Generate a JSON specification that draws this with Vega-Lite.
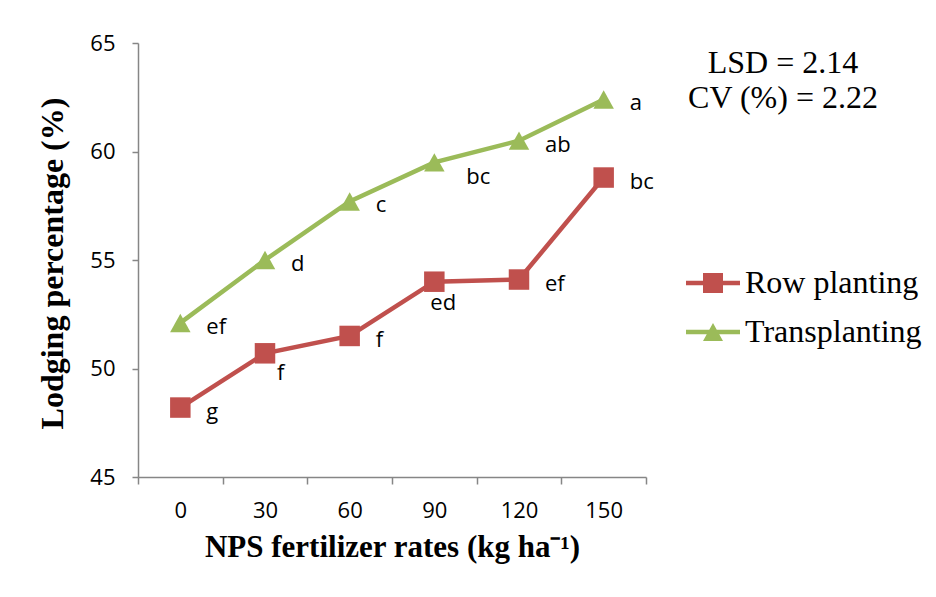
{
  "$schema": "https://vega.github.io/schema/vega-lite/v6.json",
  "width": 508,
  "height": 434,
  "autosize": "none",
  "padding": {"left": 138, "top": 43, "right": 290, "bottom": 120},
  "background": "white",
  "config": {
    "view": {"stroke": null},
    "axis": {
      "domainColor": "#868686", "tickColor": "#868686", "domainWidth": 1.5, "tickWidth": 1.5,
      "grid": false, "labelFont": "Open Sans", "labelFontSize": 22, "labelColor": "black",
      "titleFont": "Liberation Serif", "titleFontSize": 31, "titleFontWeight": "bold", "titleColor": "black"
    },
    "legend": {
      "orient": "none", "legendX": 555, "legendY": 220,
      "symbolSize": 1600, "symbolStrokeWidth": 0, "symbolOpacity": 1,
      "labelFont": "Liberation Serif", "labelFontSize": 32, "labelColor": "black",
      "labelOffset": 12, "rowPadding": 13, "padding": 0, "labelLimit": 400
    }
  },
  "title": {
    "text": ["LSD = 2.14", "CV (%) = 2.22"],
    "anchor": "end", "orient": "top", "frame": "group",
    "font": "Liberation Serif", "fontSize": 32, "fontWeight": "normal", "color": "black",
    "align": "center", "dx": 137, "baseline": "top", "offset": -83, "lineHeight": 35
  },
  "data": {
    "values": [
      {"rate": 0, "series": "Row planting", "value": 48.2, "letter": "g"},
      {"rate": 30, "series": "Row planting", "value": 50.7, "letter": "f"},
      {"rate": 60, "series": "Row planting", "value": 51.5, "letter": "f"},
      {"rate": 90, "series": "Row planting", "value": 54.0, "letter": "ed"},
      {"rate": 120, "series": "Row planting", "value": 54.1, "letter": "ef"},
      {"rate": 150, "series": "Row planting", "value": 58.8, "letter": "bc"},
      {"rate": 0, "series": "Transplanting", "value": 52.1, "letter": "ef"},
      {"rate": 30, "series": "Transplanting", "value": 55.0, "letter": "d"},
      {"rate": 60, "series": "Transplanting", "value": 57.7, "letter": "c"},
      {"rate": 90, "series": "Transplanting", "value": 59.5, "letter": "bc"},
      {"rate": 120, "series": "Transplanting", "value": 60.5, "letter": "ab"},
      {"rate": 150, "series": "Transplanting", "value": 62.4, "letter": "a"}
    ]
  },
  "encoding": {
    "x": {
      "field": "rate", "type": "ordinal",
      "scale": {"type": "band", "paddingInner": 0, "paddingOuter": 0},
      "axis": {
        "title": "NPS fertilizer rates (kg ha⁻¹)", "labelAngle": 0, "tickBand": "extent",
        "tickSize": 7, "labelPadding": 16, "titleY": 79, "titleBaseline": "alphabetic"
      }
    },
    "y": {
      "field": "value", "type": "quantitative",
      "scale": {"domain": [45, 65]},
      "axis": {
        "values": [45, 50, 55, 60, 65], "tickSize": 6, "labelPadding": 17,
        "title": "Lodging percentage (%)", "titleX": -76, "titleY": 220, "titleAngle": -90,
        "titleBaseline": "alphabetic", "titleAlign": "center", "titleFontSize": 32
      }
    },
    "color": {
      "field": "series", "type": "nominal",
      "scale": {"domain": ["Row planting", "Transplanting"], "range": ["#C0504D", "#9BBB59"]},
      "legend": null
    }
  },
  "layer": [
    {"mark": {"type": "line", "strokeWidth": 4.5}},
    {
      "mark": {"type": "point", "filled": true, "opacity": 1, "size": 420, "strokeWidth": 0},
      "encoding": {
        "shape": {
          "field": "series", "type": "nominal",
          "scale": {"domain": ["Row planting", "Transplanting"], "range": ["square", "M0,-0.9L1,0.9L-1,0.9Z"]},
          "legend": null
        }
      }
    },
    {
      "transform": [{"filter": "false"}],
      "mark": {"type": "point", "filled": true, "opacity": 1, "size": 1600, "strokeWidth": 0},
      "encoding": {
        "color": {
          "field": "series", "type": "nominal",
          "scale": {"domain": ["Row planting", "Transplanting"], "range": ["#C0504D", "#9BBB59"]},
          "legend": {"title": null}
        },
        "shape": {
          "field": "series", "type": "nominal",
          "scale": {
            "domain": ["Row planting", "Transplanting"],
            "range": [
              "M-1.35,-0.11H1.35V0.11H-1.35Z M-0.5,-0.5H0.5V0.5H-0.5Z",
              "M-1.35,-0.11H1.35V0.11H-1.35Z M0,-0.45L0.5,0.45H-0.5Z"
            ]
          },
          "legend": {"title": null}
        }
      }
    },
    {
      "transform": [{"filter": "!((datum.series === 'Row planting' && (datum.rate === 30 || datum.rate === 90)) || (datum.series === 'Transplanting' && datum.rate === 90))"}],
      "mark": {"type": "text", "font": "Open Sans", "fontSize": 22, "align": "left", "baseline": "middle", "dx": 26, "dy": 4},
      "encoding": {"text": {"field": "letter"}, "color": {"value": "black"}}
    },
    {
      "transform": [{"filter": "datum.series === 'Row planting' && datum.rate === 30"}],
      "mark": {"type": "text", "font": "Open Sans", "fontSize": 22, "align": "left", "baseline": "middle", "dx": 12, "dy": 20},
      "encoding": {"text": {"field": "letter"}, "color": {"value": "black"}}
    },
    {
      "transform": [{"filter": "datum.series === 'Row planting' && datum.rate === 90"}],
      "mark": {"type": "text", "font": "Open Sans", "fontSize": 22, "align": "left", "baseline": "middle", "dx": -4, "dy": 21},
      "encoding": {"text": {"field": "letter"}, "color": {"value": "black"}}
    },
    {
      "transform": [{"filter": "datum.series === 'Transplanting' && datum.rate === 90"}],
      "mark": {"type": "text", "font": "Open Sans", "fontSize": 22, "align": "left", "baseline": "middle", "dx": 32, "dy": 15},
      "encoding": {"text": {"field": "letter"}, "color": {"value": "black"}}
    }
  ],
  "resolve": {"scale": {"shape": "independent", "color": "independent"}}
}
